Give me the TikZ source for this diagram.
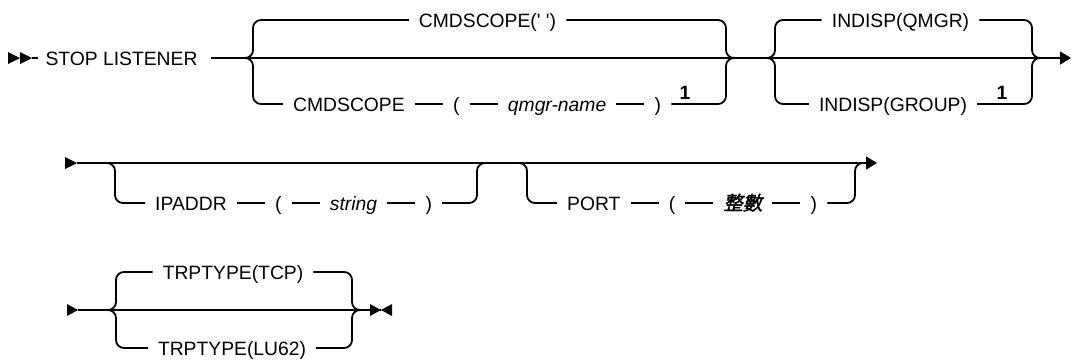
\documentclass[tikz,border=0pt]{standalone}
\usepackage{fontspec}
\setmainfont{Liberation Sans}
\newfontfamily\cjkfont[FakeSlant=0.2,FakeBold=2]{Noto Sans CJK TC}
\usetikzlibrary{arrows.meta,positioning}
\newcommand{\sq}{\textquotesingle}

\begin{document}
\begin{tikzpicture}[x=1pt,y=-1pt,>={Triangle[length=11pt,width=13pt]},node distance=28pt]
\tikzset{
 kw/.style={inner xsep=10pt,inner ysep=0pt,text height=14pt,text depth=0pt,font=\fontsize{19.3}{23}\selectfont},
 vr/.style={kw,font=\fontsize{19.3}{23}\selectfont\itshape},
 fn/.style={kw,inner xsep=0pt,font=\fontsize{19.3}{23}\selectfont\bfseries},
 ln/.style={line width=1.8pt},
 br/.style={ln,rounded corners=8pt}
}
\useasboundingbox (0,0) rectangle (1071,362);
% first line: STOP LISTENER, CMDSCOPE, INDISP
\fill (8,52) -- (20,58) -- (8,64) -- cycle (20,52) -- (32,58) -- (20,64) -- cycle;
\coordinate (s1) at (32,58);
\coordinate (e1) at (1071,58);
\node[kw,inner xsep=7pt] (stop) at (121.5,58) {STOP LISTENER};
\node[kw] (cs) at (487.5,20) {CMDSCOPE(\sq\ \sq)};
\node[kw,anchor=west] (cmd) at (283,104) {CMDSCOPE};
\node[kw,right=of cmd] (lp1) {(};
\node[vr,right=of lp1] (qm) {qmgr-name};
\node[kw,right=of qm] (rp1) {)};
\node[fn] (fn1) at (685,92) {1};
\node[kw] (iq) at (900.5,20) {INDISP(QMGR)};
\node[kw] (ig) at (893,104) {INDISP(GROUP)};
\node[fn] (fn2) at (1002,92) {1};
\draw[ln] (s1) -- (stop);
\draw[ln,->] ([xshift=6pt]stop.east) -- (e1);
\draw[br] (245,58) -| (253,20) -- (cs);
\draw[br] (cs) -| (726,58) -- (734,58);
\draw[br] (245,58) -| (253,104) -- (cmd);
\foreach \i/\j in {cmd/lp1,lp1/qm,qm/rp1}{\draw[ln] (\i)--(\j);}
\draw[br] (rp1) -| (726,58) -- (734,58);
\draw[br] (767,58) -| (775,20) -- (iq);
\draw[br] (iq) -| (1032,58) -- (1040,58);
\draw[br] (767,58) -| (775,104) -- (ig);
\draw[br] (ig) -| (1032,58) -- (1040,58);
% second line: IPADDR, PORT
\fill (65,157) -- (77,163) -- (65,169) -- cycle;
\coordinate (s2) at (77,163);
\coordinate (e2) at (877,163);
\node[kw,anchor=west] (ip) at (145,203) {IPADDR};
\node[kw,right=of ip] (lp2) {(};
\node[vr,right=of lp2] (str) {string};
\node[kw,right=of str] (rp2) {)};
\node[kw,anchor=west] (port) at (557,203) {PORT};
\node[kw,right=of port] (lp3) {(};
\node[kw,right=of lp3] (num) {\cjkfont 整數};
\node[kw,right=of num] (rp3) {)};
\draw[ln,->] (s2) -- (e2);
\draw[br] (107,163) -| (115,203) -- (ip);
\foreach \i/\j in {ip/lp2,lp2/str,str/rp2,port/lp3,lp3/num,num/rp3}{\draw[ln] (\i)--(\j);}
\draw[br] (rp2) -| (477,163) -- (485,163);
\draw[br] (519,163) -| (527,203) -- (port);
\draw[br] (rp3) -| (855,163) -- (863,163);
% third line: TRPTYPE
\fill (67,304) -- (78,310) -- (67,316) -- cycle;
\coordinate (s3) at (78,310);
\coordinate (e3) at (381,310);
\node[kw] (tcp) at (233,272) {TRPTYPE(TCP)};
\node[kw] (lu) at (232,348) {TRPTYPE(LU62)};
\draw[ln] (s3) -- (e3);
\draw[br] (108,310) -| (116,272) -- (tcp);
\draw[br] (tcp) -| (352,310) -- (360,310);
\draw[br] (108,310) -| (116,348) -- (lu);
\draw[br] (lu) -| (352,310) -- (360,310);
\fill (370,304) -- (381,310) -- (370,316) -- cycle (392,304) -- (381,310) -- (392,316) -- cycle;
\end{tikzpicture}
\end{document}
